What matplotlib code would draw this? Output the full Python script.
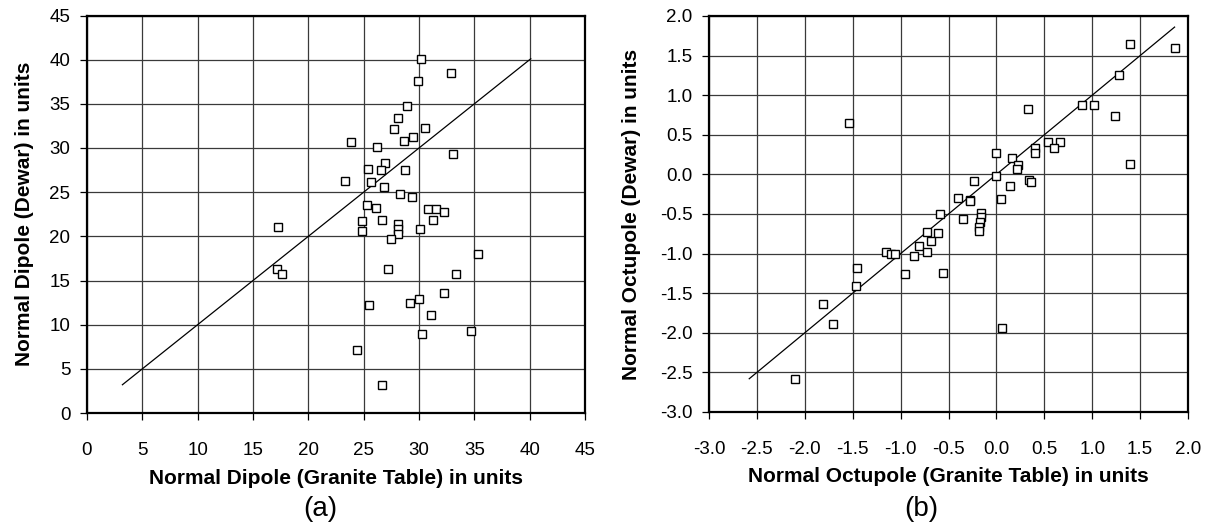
import matplotlib
matplotlib.use("Agg")
import matplotlib.pyplot as plt
from matplotlib.ticker import MultipleLocator, FormatStrFormatter

plt.rcParams['font.family'] = ['Liberation Sans', 'DejaVu Sans']

# dipole: granite table vs dewar
dipole_granite = [30.2, 32.9, 29.9, 28.9, 28.1, 27.7, 30.5, 29.5, 28.6, 23.9,
                  26.2, 33.1, 26.9, 25.4, 26.6, 28.7, 23.3, 25.7, 26.8, 28.3,
                  29.35, 25.3, 26.1, 30.8, 31.5, 32.25, 31.25, 17.3, 24.85, 24.85,
                  26.65, 28.1, 28.1, 28.1, 27.5, 30.05, 35.3, 17.2, 17.65, 27.2,
                  33.3, 32.3, 30.0, 29.2, 25.5, 31.1, 34.7, 30.3, 24.4, 26.7]
dipole_dewar = [40.1, 38.45, 37.6, 34.7, 33.45, 32.1, 32.3, 31.25, 30.8, 30.7,
                30.15, 29.3, 28.3, 27.65, 27.5, 27.5, 26.25, 26.1, 25.6, 24.75,
                24.4, 23.6, 23.2, 23.1, 23.1, 22.8, 21.9, 21.05, 21.7, 20.55,
                21.8, 21.45, 20.85, 20.25, 19.7, 20.8, 18.05, 16.25, 15.7, 16.35,
                15.7, 13.6, 12.85, 12.4, 12.2, 11.15, 9.3, 8.9, 7.1, 3.2]

# octupole: granite table vs dewar
octupole_granite = [1.39, 1.86, 1.28, 0.335, 0.89, 1.02, 1.24, 0.54, 0.666, 0.60,
                    0.40, 0.40, 0.0, 0.16, 0.23, 0.22, 1.39, 0.0, -0.237, 0.143,
                    0.345, 0.356, -0.40, -0.276, -0.276, 0.045, -0.59, -0.16, -0.16, -0.17,
                    -0.18, -0.18, -0.35, -0.72, -0.61, -0.68, -0.81, -0.72, -0.86, -0.95,
                    -0.555, 0.056, -2.1, -1.81, -1.71, -1.47, -1.45, -1.15, -1.105, -1.056,
                    -1.54]
octupole_dewar = [1.65, 1.59, 1.25, 0.823, 0.882, 0.87, 0.743, 0.413, 0.413, 0.33,
                  0.333, 0.274, 0.27, 0.21, 0.12, 0.07, 0.135, -0.02, -0.084, -0.148,
                  -0.067, -0.10, -0.295, -0.32, -0.34, -0.31, -0.50, -0.49, -0.54, -0.60,
                  -0.66, -0.72, -0.56, -0.73, -0.745, -0.84, -0.905, -0.98, -1.03, -1.255,
                  -1.24, -1.935, -2.58, -1.64, -1.89, -1.41, -1.18, -0.98, -1.01, -1.0,
                  0.654]


def scatter_panel(ax, x, y, lim, step, fmt):
    '''Draws one granite vs dewar panel with the y = x reference line.'''
    lo = min(min(x), min(y))
    hi = max(max(x), max(y))
    ax.plot([lo, hi], [lo, hi], color='black', lw=0.9, zorder=2)
    ax.plot(x, y, linestyle='none', marker='s', markersize=6.2,
            markerfacecolor='white', markeredgecolor='black',
            markeredgewidth=1.0, zorder=3)

    ax.set_xlim(lim)
    ax.set_ylim(lim)
    ax.xaxis.set_major_locator(MultipleLocator(step))
    ax.yaxis.set_major_locator(MultipleLocator(step))
    ax.xaxis.set_major_formatter(FormatStrFormatter(fmt))
    ax.yaxis.set_major_formatter(FormatStrFormatter(fmt))
    ax.grid(True, color='#3a3a3a', lw=0.9)
    ax.set_axisbelow(True)
    ax.tick_params(direction='out', length=5, width=0.9, labelsize=13.5)
    ax.tick_params(axis='x', pad=16)
    ax.tick_params(axis='y', pad=7)
    for side in ax.spines:
        ax.spines[side].set_linewidth(1.6)


def main():
    fig = plt.figure(figsize=(12.11, 5.29), dpi=100)
    W, H = 1211.0, 529.0

    ax1 = fig.add_axes([87 / W, 1 - 413 / H, (585 - 87) / W, (413 - 15.5) / H])
    scatter_panel(ax1, dipole_granite, dipole_dewar, (0, 45), 5, '%d')
    ax1.set_xlabel('Normal Dipole (Granite Table) in units', fontsize=15,
                   fontweight='bold')
    ax1.set_ylabel('Normal Dipole (Dewar) in units', fontsize=15,
                   fontweight='bold')
    ax1.xaxis.set_label_coords(0.5, -0.14)
    ax1.yaxis.set_label_coords(-0.106, 0.5)

    ax2 = fig.add_axes([709 / W, 1 - 412 / H, (1188 - 709) / W, (412 - 16) / H])
    scatter_panel(ax2, octupole_granite, octupole_dewar, (-3, 2), 0.5, '%.1f')
    ax2.set_xlabel('Normal Octupole (Granite Table) in units', fontsize=15,
                   fontweight='bold')
    ax2.set_ylabel('Normal Octupole (Dewar) in units', fontsize=15,
                   fontweight='bold')
    ax2.xaxis.set_label_coords(0.5, -0.14)
    ax2.yaxis.set_label_coords(-0.142, 0.5)

    fig.text(320 / W, 1 - 509 / H, '(a)', fontsize=20, ha='center', va='center')
    fig.text(921 / W, 1 - 509 / H, '(b)', fontsize=20, ha='center', va='center')

    fig.savefig('out.png', dpi=100)


if __name__ == '__main__':
    main()
